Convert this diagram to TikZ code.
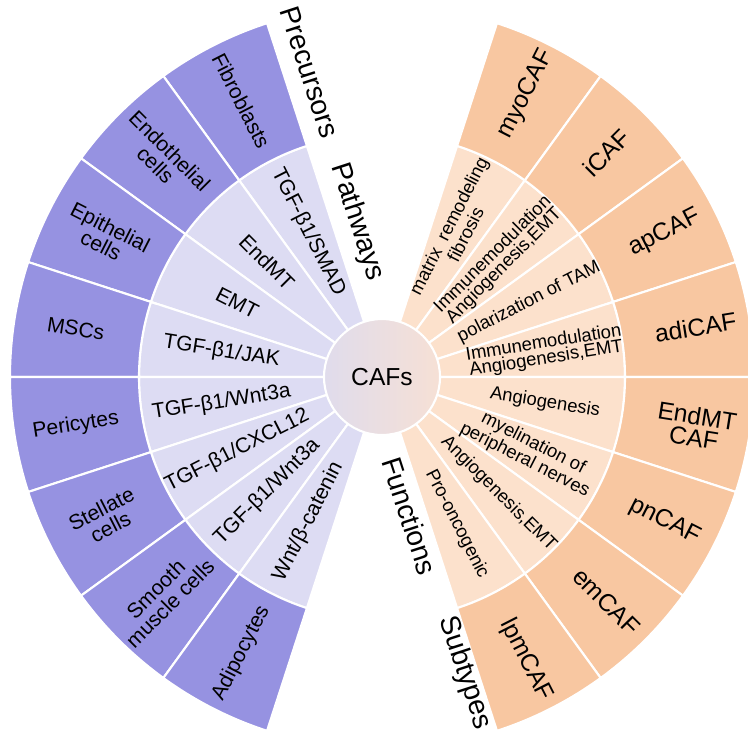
\documentclass[tikz,border=0pt]{standalone}
\usepackage{fontspec}
\setmainfont{Liberation Sans}
\definecolor{precol}{HTML}{9692E1}
\definecolor{pathcol}{HTML}{DDDCF3}
\definecolor{subcol}{HTML}{F8C7A1}
\definecolor{funcol}{HTML}{FCE1CC}
\definecolor{cafleft}{HTML}{E0DCEC}
\definecolor{cafright}{HTML}{F6E0D5}

\begin{document}
\begin{tikzpicture}[
  sect/.style={draw=white, line width=1.2pt},
  pretext/.style={font=\fontsize{12}{11.5}\selectfont, align=center},
  pathtext/.style={font=\fontsize{12}{12}\selectfont, align=center},
  funtext/.style={font=\fontsize{10.5}{9}\selectfont, align=center},
  subtext/.style={font=\fontsize{14}{12.5}\selectfont, align=center},
  grouptext/.style={font=\fontsize{16}{16}\selectfont, rotate=-72}]
  \clip (-7.64,-7.12) rectangle (7.32,7.54);
  % left half: pathways inside, precursors outside
  \foreach \i in {0,...,7}{
    \pgfmathsetmacro\a{108+18*\i}
    \pgfmathsetmacro\b{\a+18}
    \filldraw[sect, fill=pathcol] (0,0) -- (\a:4.86) arc[start angle=\a, end angle=\b, radius=4.86] -- cycle;
    \filldraw[sect, fill=precol] (\a:4.86) -- (\a:7.44) arc[start angle=\a, end angle=\b, radius=7.44]
      -- (\b:4.86) arc[start angle=\b, end angle=\a, radius=4.86] -- cycle;
  }
  % right half: functions inside, subtypes outside
  \foreach \i in {0,...,7}{
    \pgfmathsetmacro\a{72-18*\i}
    \pgfmathsetmacro\b{\a-18}
    \filldraw[sect, fill=funcol] (0,0) -- (\a:4.86) arc[start angle=\a, end angle=\b, radius=4.86] -- cycle;
    \filldraw[sect, fill=subcol] (\a:4.86) -- (\a:7.44) arc[start angle=\a, end angle=\b, radius=7.44]
      -- (\b:4.86) arc[start angle=\b, end angle=\a, radius=4.86] -- cycle;
  }
  \node[circle, minimum size=2.32cm, draw=white, line width=1.2pt, left color=cafleft, right color=cafright,
    font=\fontsize{14}{14}\selectfont] (caf) at (0,0) {CAFs};
  % sector labels
  \foreach \lbl [count=\i from 0] in {Fibroblasts, Endothelial\\cells, Epithelial\\cells, MSCs, Pericytes,
      Stellate\\cells, Smooth\\muscle cells, Adipocytes}{
    \pgfmathsetmacro\m{117+18*\i}
    \node[pretext, rotate=\m-180] (pre\i) at (\m:6.2) {\lbl};
  }
  \foreach \lbl [count=\i from 0] in {TGF-β1/SMAD, EndMT, EMT, TGF-β1/JAK, TGF-β1/Wnt3a, TGF-β1/CXCL12,
      TGF-β1/Wnt3a, Wnt/β-catenin}{
    \pgfmathsetmacro\m{117+18*\i}
    \node[pathtext, rotate=\m-180] (path\i) at (\m:3.25) {\lbl};
  }
  \foreach \lbl [count=\i from 0] in {matrix\ \ remodeling\\fibrosis, {Immunemodulation\\Angiogenesis,EMT},
      polarization of TAM, {Immunemodulation\\Angiogenesis,EMT}, Angiogenesis,
      myelination of\\peripheral nerves, {Angiogenesis,EMT}, Pro-oncogenic}{
    \pgfmathsetmacro\m{63-18*\i}
    \node[funtext, rotate=\m] (fun\i) at (\m:3.3) {\lbl};
  }
  \foreach \lbl [count=\i from 0] in {myoCAF, iCAF, apCAF, adiCAF, EndMT\\CAF, pnCAF, emCAF, lpmCAF}{
    \pgfmathsetmacro\m{63-18*\i}
    \node[subtext, rotate=\m] (sub\i) at (\m:6.35) {\lbl};
  }
  % group titles
  \node[grouptext] (precursors) at (-1.44,6.09) {Precursors};
  \node[grouptext] (pathways) at (-0.5,3.1) {Pathways};
  \node[grouptext] (functions) at (0.56,-2.78) {Functions};
  \node[grouptext] (subtypes) at (1.66,-5.92) {Subtypes};
\end{tikzpicture}
\end{document}
